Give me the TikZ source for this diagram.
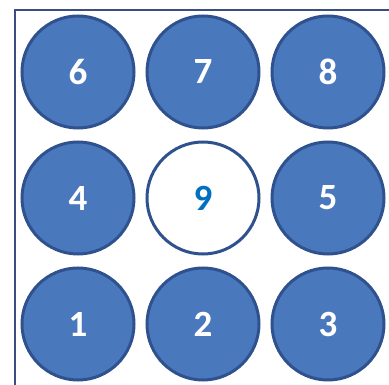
\documentclass[tikz,border=0pt]{standalone}
\usepackage{fontspec}
\setmainfont{Carlito}
\definecolor{cfill}{RGB}{74,120,188}
\definecolor{cline}{RGB}{47,82,143}
\definecolor{frame}{RGB}{60,78,128}
\definecolor{ninec}{RGB}{0,112,192}
\tikzset{
  ball/.style={circle, minimum size=112pt, inner sep=0pt, draw=cline, line width=3pt, fill=cfill,
    text=white, font=\fontsize{37}{37}\selectfont\bfseries},
  emptyball/.style={ball, fill=white, text=ninec}
}
\begin{document}
\begin{tikzpicture}[x=1pt,y=-1pt]
\useasboundingbox (0,0) rectangle (389,385);
\coordinate (fb) at (14.5,390);
\coordinate (fc) at (14.5,10.5);
\coordinate (fr) at (392,10.5);
\draw[frame, line width=2pt] (fb) -- (fc) -- (fr);
\node[ball] (n6) at (78,72) {6};
\node[ball] (n7) at (203,72) {7};
\node[ball] (n8) at (328,72) {8};
\node[ball] (n4) at (78,198) {4};
\node[emptyball] (n9) at (203,198) {9};
\node[ball] (n5) at (328,198) {5};
\node[ball] (n1) at (78,324) {1};
\node[ball] (n2) at (203,324) {2};
\node[ball] (n3) at (328,324) {3};
\end{tikzpicture}
\end{document}
